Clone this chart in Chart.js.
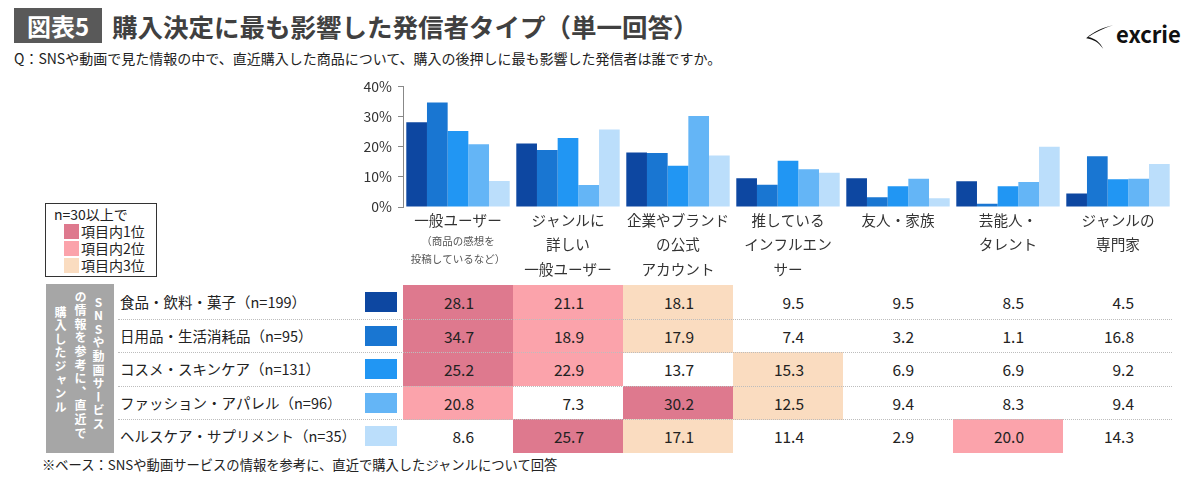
<!DOCTYPE html>
<html>
<head>
<meta charset="utf-8">
<script src="https://cdn.jsdelivr.net/npm/chart.js@4"></script>
<style>
  body { margin: 0; width: 1200px; height: 485px; background: #fff; position: relative; overflow: hidden;
         font-family: "Noto Sans CJK JP", "Noto Sans", sans-serif; color: #222; }
  .abs { position: absolute; }
  #badge { left: 14px; top: 8px; width: 88px; height: 35px; background: #595959; color: #fff;
           font-weight: bold; font-size: 24px; line-height: 35px; text-align: center; }
  #title { left: 112px; top: 8px; font-size: 25.5px; font-weight: bold; color: #404040; line-height: 35px; }
  #sub { left: 14px; top: 48px; font-size: 14px; color: #222; }
  #logo { left: 1084px; top: 17px; font-size: 22px; font-weight: bold; color: #111; white-space: nowrap; }
  #chartBox { left: 340px; top: 72px; width: 840px; height: 213px; }
  #legend { left: 45px; top: 203px; width: 110px; height: 72px; border: 1px solid #333; font-size: 14px; line-height: 16px; }
  #legend .it { position: absolute; left: 18px; }
  #legend .sw { display: inline-block; width: 15px; height: 15px; vertical-align: -2px; margin-right: 2px; }
  #side { left: 46px; top: 284px; width: 68px; height: 169px; background: #a6a6a6; }
  .vcol { position: absolute; writing-mode: vertical-rl; text-orientation: upright; color: #fff;
          font-size: 12px; font-weight: bold; letter-spacing: 1.6px; line-height: 12px; }
  .row { position: absolute; left: 0; width: 1200px; height: 34px; }
  .rlabel { position: absolute; left: 120px; top: 0; line-height: 34px; font-size: 14.5px; }
  .rsw { position: absolute; left: 365px; top: 7px; width: 32px; height: 20px; }
  .cell { position: absolute; top: 0; width: 110px; height: 34px; line-height: 34px; text-align: right;
          box-sizing: border-box; padding-right: 39px; font-size: 15.5px; color: #222; }
  .sep { position: absolute; left: 118px; width: 1054px; height: 0; border-top: 1px dotted #bdbdbd; }
  #foot { left: 42px; top: 455px; font-size: 13.3px; color: #222; }
</style>
</head>
<body>
<div id="badge" class="abs">図表5</div>
<div id="title" class="abs">購入決定に最も影響した発信者タイプ（単一回答）</div>
<div id="sub" class="abs">Q：SNSや動画で見た情報の中で、直近購入した商品について、購入の後押しに最も影響した発信者は誰ですか。</div>
<div id="logo" class="abs">
  <svg width="32" height="28" viewBox="0 0 30 26" style="vertical-align:-7px">
    <path d="M27 3 C18 6 10 10 4 14 C10 15 15 19 18 25 C14 19 9 16 2 15 C9 9 18 5 27 3 Z" fill="#111"/>
  </svg>excrie
</div>

<div id="chartBox" class="abs"><canvas id="grafico" width="840" height="213"></canvas></div>

<div id="legend" class="abs">
  <div style="position:absolute;left:8px;top:2px">n=30以上で</div>
  <div class="it" style="top:19px"><span class="sw" style="background:#de798e"></span>項目内1位</div>
  <div class="it" style="top:36px"><span class="sw" style="background:#fba3ab"></span>項目内2位</div>
  <div class="it" style="top:53px"><span class="sw" style="background:#fadcc0"></span>項目内3位</div>
</div>

<div id="side" class="abs">
  <div class="vcol" style="left:46px;top:12px">SNSや動画サービス</div>
  <div class="vcol" style="left:28px;top:7px">の情報を参考に、直近で</div>
  <div class="vcol" style="left:8px;top:22px">購入したジャンル</div>
</div>

<div id="tabela"></div>

<div id="foot" class="abs">※ベース：SNSや動画サービスの情報を参考に、直近で購入したジャンルについて回答</div>

<script>
// categorias (eixo x)
var categorias = [
    ["一般ユーザー"],
    ["ジャンルに", "詳しい", "一般ユーザー"],
    ["企業やブランド", "の公式", "アカウント"],
    ["推している", "インフルエン", "サー"],
    ["友人・家族"],
    ["芸能人・", "タレント"],
    ["ジャンルの", "専門家"]
];
var notaCategoria = ["（商品の感想を", "投稿しているなど）"];

var generos = [
    "食品・飲料・菓子（n=199）",
    "日用品・生活消耗品（n=95）",
    "コスメ・スキンケア（n=131）",
    "ファッション・アパレル（n=96）",
    "ヘルスケア・サプリメント（n=35）"
];

var valoresAlimentos = [28.1, 21.1, 18.1, 9.5, 9.5, 8.5, 4.5];
var valoresDiarios = [34.7, 18.9, 17.9, 7.4, 3.2, 1.1, 16.8];
var valoresCosmeticos = [25.2, 22.9, 13.7, 15.3, 6.9, 6.9, 9.2];
var valoresModa = [20.8, 7.3, 30.2, 12.5, 9.4, 8.3, 9.4];
var valoresSaude = [8.6, 25.7, 17.1, 11.4, 2.9, 20.0, 14.3];

var ticksY = [0, 10, 20, 30, 40];

var series = [valoresAlimentos, valoresDiarios, valoresCosmeticos, valoresModa, valoresSaude];
var cores = ["#0d47a1", "#1976d2", "#2196f3", "#64b5f6", "#bbdefb"];
var coresRank = ["#de798e", "#fba3ab", "#fadcc0"];

var fonte = '"Noto Sans CJK JP", "Noto Sans", sans-serif';

var rotulosPlugin = {
    id: 'rotulos',
    afterDraw: function (chart) {
        var ctx = chart.ctx;
        var x = chart.scales.x;
        var base = chart.chartArea.bottom;
        ctx.save();
        ctx.textAlign = 'center';
        ctx.textBaseline = 'middle';
        chart.data.labels.forEach(function (linhas, i) {
            var px = x.getPixelForValue(i);
            ctx.fillStyle = '#333';
            ctx.font = '14.6px ' + fonte;
            linhas.forEach(function (l, k) {
                ctx.fillText(l, px, base + 13 + k * 24.5);
            });
            if (i === 0) {
                ctx.fillStyle = '#555';
                ctx.font = '10.5px ' + fonte;
                ctx.fillText(notaCategoria[0], px, base + 34);
                ctx.fillText(notaCategoria[1], px, base + 52);
            }
        });
        ctx.restore();
    }
};

var datasets = [];
var indice = 0;
while (indice < series.length) {
    datasets.push({
        label: generos[indice],
        data: series[indice],
        backgroundColor: cores[indice],
        borderWidth: 0,
        categoryPercentage: 0.94,
        barPercentage: 1.0
    });
    indice++;
}

new Chart(document.getElementById('grafico'), {
    type: 'bar',
    data: { labels: categorias, datasets: datasets },
    options: {
        responsive: false,
        animation: false,
        layout: { padding: { top: 10, right: 7, left: 0, bottom: 0 } },
        plugins: { legend: { display: false }, tooltip: { enabled: false } },
        scales: {
            x: {
                ticks: { display: false },
                grid: { display: false },
                border: { display: false },
                afterFit: function (s) { s.height = 78; }
            },
            y: {
                min: ticksY[0],
                max: ticksY[ticksY.length - 1],
                afterBuildTicks: function (s) { s.ticks = ticksY.map(function (v) { return { value: v }; }); },
                ticks: {
                    color: '#333',
                    font: { size: 14, family: fonte },
                    padding: 6,
                    callback: function (v) { return v + '%'; }
                },
                grid: { drawOnChartArea: false, drawTicks: true, tickLength: 5, color: '#888' },
                border: { display: true, color: '#888' },
                afterFit: function (s) { s.width = 63; }
            }
        }
    },
    plugins: [rotulosPlugin]
});

// tabela de valores abaixo do grafico
var tabela = document.getElementById('tabela');
var topo = 285;
var alturaLinha = 33.6;
generos.forEach(function (g, r) {
    var linha = document.createElement('div');
    linha.className = 'row';
    linha.style.top = (topo + r * alturaLinha) + 'px';
    var html = '<div class="rlabel">' + g + '</div><div class="rsw" style="background:' + cores[r] + '"></div>';
    var vals = series[r];
    var ordenados = vals.slice().sort(function (a, b) { return b - a; });
    vals.forEach(function (v, c) {
        var rank = ordenados.indexOf(v);
        var bg = rank < 3 ? coresRank[rank] : 'transparent';
        html += '<div class="cell" style="left:' + (403 + c * 110) + 'px;background:' + bg + '">' + v.toFixed(1) + '</div>';
    });
    linha.innerHTML = html;
    tabela.appendChild(linha);
    if (r > 0) {
        var sep = document.createElement('div');
        sep.className = 'sep';
        sep.style.top = Math.round(topo + r * alturaLinha) + 'px';
        tabela.appendChild(sep);
    }
});
</script>
</body>
</html>
